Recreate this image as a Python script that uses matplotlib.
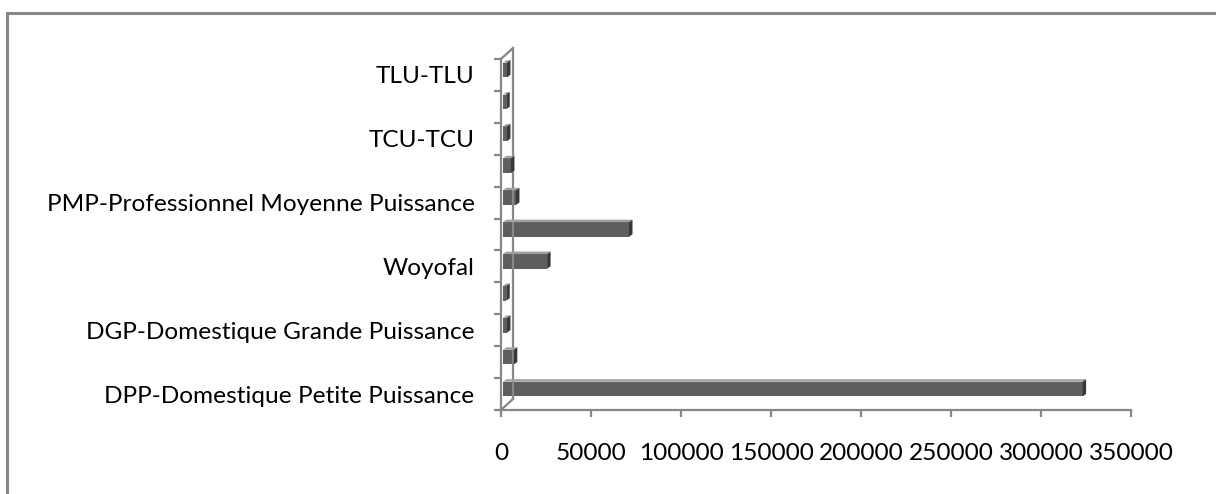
import numpy as np
import matplotlib
matplotlib.use("Agg")
import matplotlib.pyplot as plt
from matplotlib.lines import Line2D
from matplotlib.patches import Polygon, Rectangle
from matplotlib.transforms import IdentityTransform, offset_copy

plt.rcParams['font.family'] = ['Lato', 'DejaVu Sans']

# 11 tariff categories, Excel shows only every other label
categories = ["DPP-Domestique Petite Puissance", "", "DGP-Domestique Grande Puissance", "",
              "Woyofal", "", "PMP-Professionnel Moyenne Puissance", "",
              "TCU-TCU", "", "TLU-TLU"]
values = [322000, 6000, 2200, 1800, 24500, 70000, 7200, 4400, 2200, 1800, 2200]
xticks = [0, 50000, 100000, 150000, 200000, 250000, 300000, 350000]

W, H = 1216, 494
grey = "#878787"
front_col = "#5e5e5e"
top_col = "#a0a0a0"
cap_col = "#383838"
fs = 17.6

fig = plt.figure(figsize=(W / 100, H / 100), dpi=100)
ax = fig.add_axes([501 / W, (H - 410) / H, 630 / W, 351 / H])
ax.set_xlim(0, 350000)
ax.set_ylim(-0.5, len(categories) - 0.5)

for s in ["top", "right"]:
    ax.spines[s].set_visible(False)
for s in ["left", "bottom"]:
    ax.spines[s].set_color(grey)
    ax.spines[s].set_linewidth(1.6)

ax.set_xticks(xticks)
ax.set_xticklabels([str(v) for v in xticks], fontsize=fs)
ax.tick_params(axis="x", length=5, width=1.6, color=grey, pad=19)

ypos = np.arange(len(categories))
ax.set_yticks(np.arange(-0.5, len(categories), 1))
ax.set_yticklabels([])
ax.set_yticks(ypos[::2], minor=True)
ax.set_yticklabels(categories[::2], minor=True, fontsize=fs)
ax.tick_params(axis="y", which="major", length=5, width=1.6, color=grey)
ax.tick_params(axis="y", which="minor", length=0, pad=19)

# bars: front face shifted half the wall depth
h = 0.46
bar_tr = offset_copy(ax.transData, fig=fig, x=2, y=5, units="dots")
ax.barh(ypos, values, height=h, color=front_col, transform=bar_tr, zorder=4)

T = bar_tr.transform
d = np.array([3.5, 2.5])
for y, v in zip(ypos, values):
    x0, yb = T((0, y - h / 2))
    x1, yt = T((v, y + h / 2))
    top = Polygon([(x0, yt), (x1, yt), (x1 + d[0], yt + d[1]), (x0 + d[0], yt + d[1])],
                  closed=True, facecolor=top_col, edgecolor="none",
                  transform=IdentityTransform(), zorder=5)
    cap = Polygon([(x1, yb), (x1, yt), (x1 + d[0], yt + d[1]), (x1 + d[0], yb + d[1])],
                  closed=True, facecolor=cap_col, edgecolor="none",
                  transform=IdentityTransform(), zorder=5)
    fig.add_artist(top)
    fig.add_artist(cap)

# side wall of the 3D chart
Td = ax.transData.transform
p_bot = np.array(Td((0, -0.5)))
p_top = np.array(Td((0, len(categories) - 0.5)))
wall = np.array([12, 11])
for a, b in [(p_bot + wall, p_top + wall), (p_bot, p_bot + wall), (p_top, p_top + wall)]:
    fig.add_artist(Line2D([a[0], b[0]], [a[1], b[1]], color=grey, lw=1.6,
                          transform=IdentityTransform(), zorder=3))

# chart frame (only top and left edges visible)
fig.add_artist(Rectangle((7 / W, -0.1), 1.2, (H - 13) / H + 0.1, transform=fig.transFigure,
                         fill=False, edgecolor=grey, lw=2.2))

fig.savefig("out.png", dpi=100)
